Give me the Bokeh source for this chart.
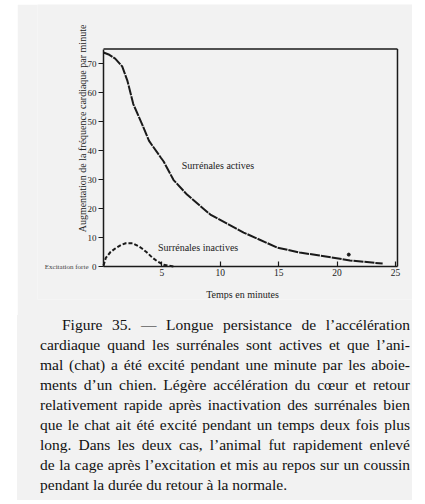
from bokeh.plotting import figure
from bokeh.models import Range1d, FixedTicker, Label, Div, Spacer
from bokeh.layouts import row, column
from bokeh.embed import file_html
from bokeh.resources import INLINE
import math

# ---- data ----
active_t = [0, 0.5, 1.0, 1.6, 2.05, 2.55, 3.3, 3.9, 4.9, 5.15, 6.0, 7.15, 9.15, 12.0, 14.9, 16.8, 18.5, 21.1, 23.9]
active_v = [73.8, 73.0, 71.7, 69.0, 64.0, 56.0, 49.1, 43.3, 37.6, 36.2, 29.8, 24.8, 17.9, 11.7, 6.5, 4.8, 3.8, 2.1, 1.0]
inactive_t = [0, 0.2, 0.6, 1.0, 1.5, 1.9, 2.5, 3.0, 3.3, 3.7, 4.2, 4.6, 5.15, 6.0]
inactive_v = [0.3, 3.0, 5.0, 6.2, 7.4, 8.0, 8.0, 7.0, 6.2, 4.9, 3.0, 1.8, 0.6, 0.0]
outlier_t = [21.0]
outlier_v = [4.1]
x_ticks = [5, 10, 15, 20, 25]
y_ticks = [0, 10, 20, 30, 40, 50, 60, 70]
box_x = [0, 25.17]   # plotted box extent (minutes)
box_y = [0, 75]      # plotted box extent (beats/min)

caption_lines = [
    "Figure 35. — Longue persistance de l’accélération",
    "cardiaque quand les surrénales sont actives et que l’ani-",
    "mal (chat) a été excité pendant une minute par les aboie-",
    "ments d’un chien. Légère accélération du cœur et retour",
    "relativement rapide après inactivation des surrénales bien",
    "que le chat ait été excité pendant un temps deux fois plus",
    "long. Dans les deux cas, l’animal fut rapidement enlevé",
    "de la cage après l’excitation et mis au repos sur un coussin",
    "pendant la durée du retour à la normale.",
]

BG = "#f2f2f2"
INK = "#1a1a1a"
SERIF = "Liberation Serif"

# page geometry (pixels)
CANVAS_L, CANVAS_T, CANVAS_W, CANVAS_H = 17, 4, 395, 311
MB_L, MB_B = 20, 16
X0_PX, PX_PER_MIN = 103.0, 11.68     # where t=0 sits, scale
Y0_PX, PX_PER_BEAT = 266.0, 2.9      # where v=0 sits, scale
frame_l = CANVAS_L + MB_L
frame_r = CANVAS_L + CANVAS_W
frame_t = CANVAS_T
frame_b = CANVAS_T + CANVAS_H - MB_B

x_range = Range1d((frame_l - X0_PX) / PX_PER_MIN, (frame_r - X0_PX) / PX_PER_MIN)
y_range = Range1d((Y0_PX - frame_b) / PX_PER_BEAT, (Y0_PX - frame_t) / PX_PER_BEAT)

p = figure(width=CANVAS_W, height=CANVAS_H, output_backend="svg", toolbar_location=None,
           x_range=x_range, y_range=y_range,
           min_border_left=MB_L, min_border_right=0, min_border_top=0, min_border_bottom=MB_B)
p.background_fill_color = BG
p.border_fill_color = BG
p.outline_line_color = None
p.grid.visible = False

xa = p.xaxis[0]
xa.fixed_location = 0
xa.bounds = (box_x[0], box_x[1])
xa.ticker = FixedTicker(ticks=x_ticks)
xa.major_tick_in = 5
xa.major_tick_out = 0
xa.minor_tick_line_color = None
xa.axis_line_color = INK
xa.axis_line_width = 1.5
xa.major_tick_line_color = INK
xa.major_tick_line_width = 1.2
xa.major_label_standoff = 2
xa.major_label_text_font = SERIF
xa.major_label_text_font_size = "9.5px"
xa.major_label_text_color = "#222"

ya = p.yaxis[0]
ya.fixed_location = 0
ya.bounds = (box_y[0], box_y[1])
ya.ticker = FixedTicker(ticks=y_ticks)
ya.major_tick_in = 0
ya.major_tick_out = 5
ya.minor_tick_line_color = None
ya.axis_line_color = INK
ya.axis_line_width = 1.5
ya.major_tick_line_color = INK
ya.major_tick_line_width = 1.2
ya.major_label_standoff = 2
ya.major_label_text_font = SERIF
ya.major_label_text_font_size = "9px"
ya.major_label_text_color = "#222"

# top and right edges of the plotted box
p.line(box_x, [box_y[1], box_y[1]], line_color=INK, line_width=1.5)
p.line([box_x[1], box_x[1]], box_y, line_color=INK, line_width=1.5)

p.line(active_t, active_v, line_color=INK, line_width=2.0, line_dash="10 1")
p.line(inactive_t, inactive_v, line_color=INK, line_width=2.0, line_dash="4 2")
p.scatter(outlier_t, outlier_v, size=3, color=INK)

p.add_layout(Label(x=9.8, y=35, text="Surrénales actives", text_align="center",
                   text_baseline="middle", text_font=SERIF, text_font_size="10px",
                   text_color="#222"))
p.add_layout(Label(x=8.1, y=6.5, text="Surrénales inactives", text_align="center",
                   text_baseline="middle", text_font=SERIF, text_font_size="10px",
                   text_color="#222"))
p.add_layout(Label(x=(242 - X0_PX) / PX_PER_MIN, y=(Y0_PX - 294) / PX_PER_BEAT,
                   text="Temps en minutes", text_align="center",
                   text_baseline="middle", text_font=SERIF, text_font_size="10px",
                   text_color="#222"))
p.add_layout(Label(x=(82 - X0_PX) / PX_PER_MIN, y=(Y0_PX - 128) / PX_PER_BEAT, angle=math.pi / 2,
                   text="Augmentation de la fréquence cardiaque par minute",
                   text_align="center", text_baseline="middle", text_font=SERIF,
                   text_font_size="10px", text_color="#222"))
p.add_layout(Label(x=0, y=0, x_offset=-15, text="Excitation forte", text_align="right",
                   text_baseline="middle", text_font=SERIF, text_font_size="7px",
                   text_color="#444"))

parts = []
for i, ln in enumerate(caption_lines):
    last = i == len(caption_lines) - 1
    st = "white-space:nowrap;"
    if not last:
        st += "text-align:justify;text-align-last:justify;"
    if i == 0:
        st += "padding-left:22px;"
    parts.append(f'<div style="{st}">{ln}</div>')
html = '<div style="width:370px;">' + "".join(parts) + "</div>"

div = Div(text=html, width=CANVAS_W, height=185, margin=0,
          styles={"background-color": BG, "padding": "0 2px 0 23px", "box-sizing": "border-box",
                  "font-family": SERIF, "font-size": "15.5px", "line-height": "20px",
                  "color": "#111"})

layout = row(Spacer(width=CANVAS_L), column(Spacer(height=CANVAS_T), p, div))

open("out.html", "w").write(file_html(layout, INLINE))
